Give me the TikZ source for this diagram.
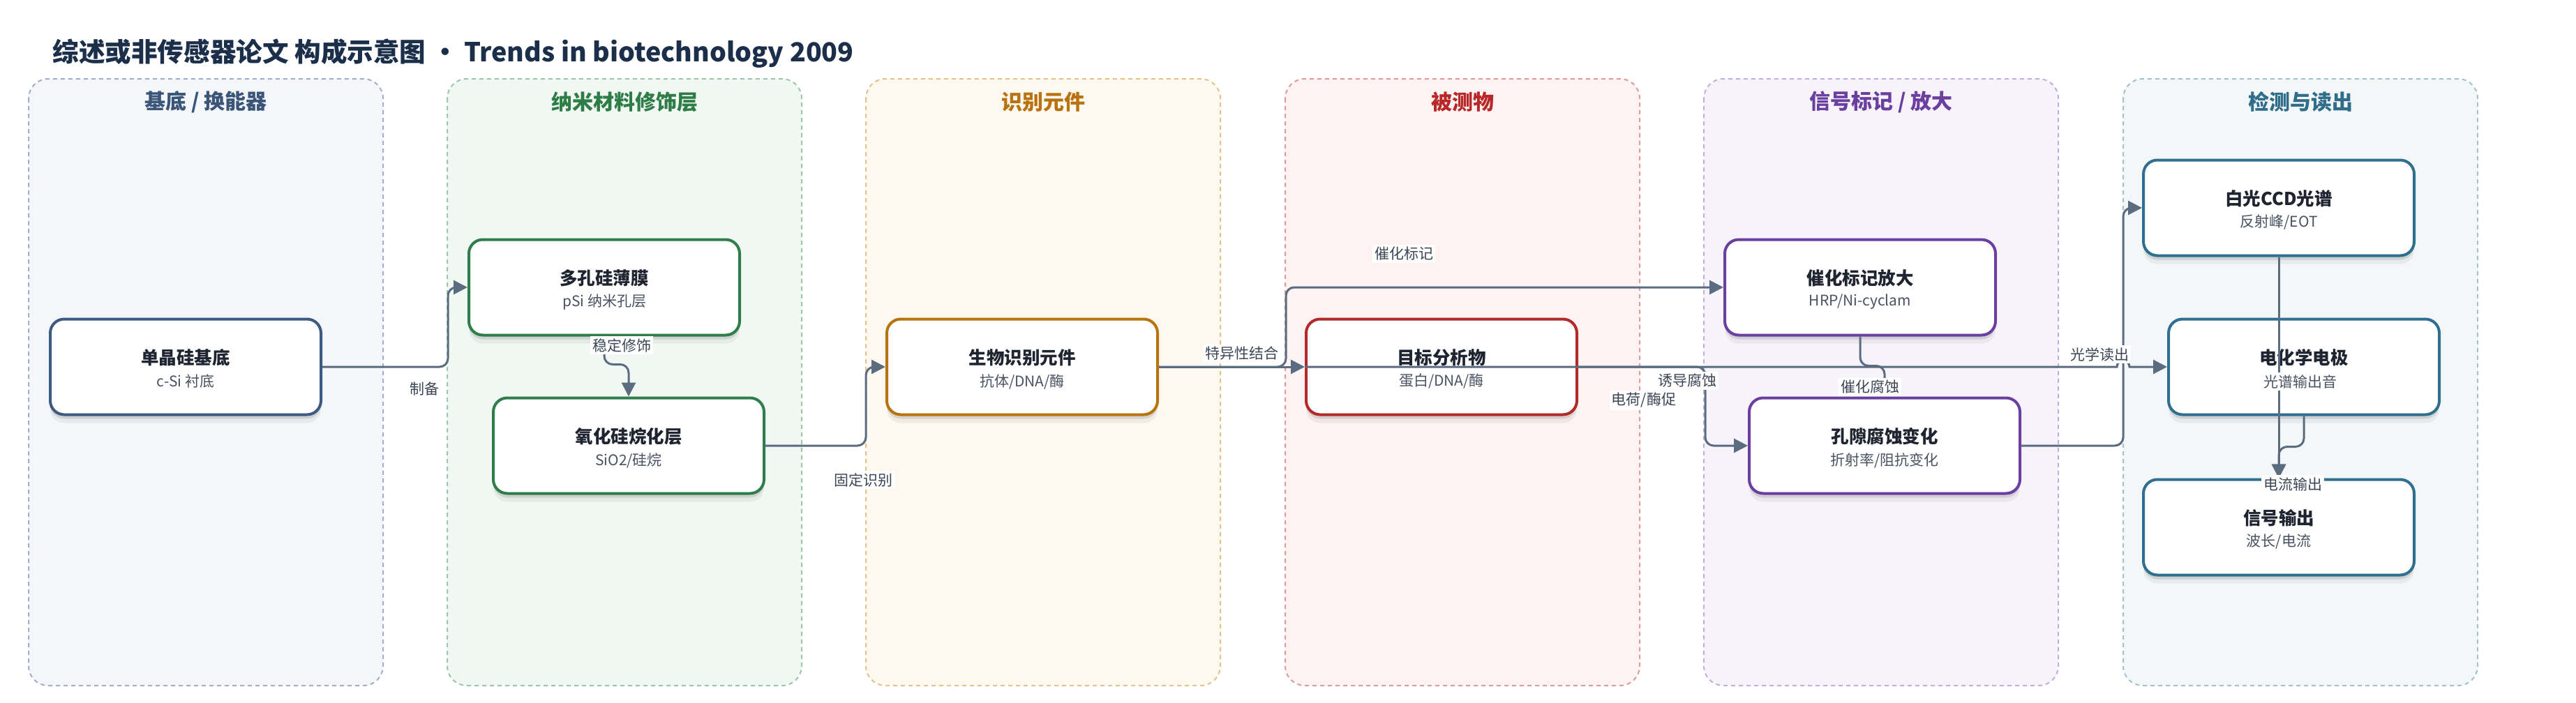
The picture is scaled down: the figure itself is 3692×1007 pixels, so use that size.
\documentclass[tikz,border=0pt]{standalone}
\usepackage{fontspec}
\setmainfont{Noto Sans CJK SC}
\usetikzlibrary{arrows.meta,shadows,calc}

\definecolor{titlec}{HTML}{1B2F4B}
\definecolor{edgec}{HTML}{5B6B80}
\definecolor{ntext}{HTML}{1E2430}
\definecolor{stext}{HTML}{4A5262}
\definecolor{ltext}{HTML}{3C4656}
% lane colours: border, fill, title, node border
\definecolor{laB}{HTML}{9FB0C8}\definecolor{laF}{HTML}{F4F6FA}\definecolor{laT}{HTML}{3B5578}\definecolor{laN}{HTML}{3D5A80}
\definecolor{lbB}{HTML}{9CC6A9}\definecolor{lbF}{HTML}{F1F8F3}\definecolor{lbT}{HTML}{2E7D46}\definecolor{lbN}{HTML}{2E7D4A}
\definecolor{lcB}{HTML}{E6C285}\definecolor{lcF}{HTML}{FDF8F0}\definecolor{lcT}{HTML}{B8730F}\definecolor{lcN}{HTML}{B8740C}
\definecolor{ldB}{HTML}{E49A9A}\definecolor{ldF}{HTML}{FDF3F2}\definecolor{ldT}{HTML}{B82828}\definecolor{ldN}{HTML}{B22A2A}
\definecolor{leB}{HTML}{C3AEE0}\definecolor{leF}{HTML}{F7F3FB}\definecolor{leT}{HTML}{6B3FA0}\definecolor{leN}{HTML}{6B3FA0}
\definecolor{lfB}{HTML}{A3C2CC}\definecolor{lfF}{HTML}{F3F7F8}\definecolor{lfT}{HTML}{2F6D8A}\definecolor{lfN}{HTML}{2F6F8F}

\newcommand\mybox[6]{%
  \node[boxn=#4] (#1) at (#2,#3) {};
  \node[nttl] (#1t) at ([yshift=6.5pt]#1.center) {#5};
  \node[nsub] (#1s) at ([yshift=-10.5pt]#1.center) {#6};}
\newcommand\mylane[6]{%
  \path[lanebox, draw=#3, fill=#4] (#2,113) rectangle ++(508,870);
  \node[lanettl, text=#5] (#1) at (#2+254,146) {#6};}

\begin{document}
\begin{tikzpicture}[x=0.5pt,y=-0.5pt,
  lanebox/.style={line width=1pt, dash pattern=on 3pt off 2.5pt, rounded corners=14pt},
  lanettl/.style={inner sep=0pt, font=\fontsize{15pt}{18pt}\selectfont\bfseries},
  boxn/.style={draw=#1, fill=white, line width=2pt, rounded corners=10pt,
    minimum width=194pt, minimum height=68.5pt, inner sep=0pt,
    drop shadow={shadow xshift=0pt, shadow yshift=-3pt, opacity=0.10, fill=black},
    drop shadow={shadow xshift=0pt, shadow yshift=-6pt, opacity=0.05, fill=black}},
  nttl/.style={inner sep=0pt, text=ntext, font=\fontsize{12.75pt}{15pt}\selectfont\bfseries},
  nsub/.style={inner sep=0pt, text=stext, font=\fontsize{10.5pt}{12.5pt}\selectfont},
  lbl/.style={fill=white, inner sep=1.5pt, text=ltext, font=\fontsize{10.5pt}{12.5pt}\selectfont},
  edge/.style={draw=edgec, line width=1.5pt, rounded corners=6pt, -{Triangle[length=10pt,width=10pt]}},
  plain/.style={draw=edgec, line width=1.5pt}]
\useasboundingbox[fill=white] (0,0) rectangle (3692,1007);

\node[anchor=west, inner sep=0pt, text=titlec, font=\fontsize{18.8pt}{22pt}\selectfont\bfseries] (title) at (75,77)
  {综述或非传感器论文 构成示意图 • Trends in biotechnology 2009};

\mylane{L1}{41}{laB}{laF}{laT}{基底 / 换能器}
\mylane{L2}{641}{lbB}{lbF}{lbT}{纳米材料修饰层}
\mylane{L3}{1241}{lcB}{lcF}{lcT}{识别元件}
\mylane{L4}{1842}{ldB}{ldF}{ldT}{被测物}
\mylane{L5}{2442}{leB}{leF}{leT}{信号标记 / 放大}
\mylane{L6}{3043}{lfB}{lfF}{lfT}{检测与读出}

\mybox{n1}{266}{526}{laN}{单晶硅基底}{c-Si 衬底}
\mybox{n2}{866}{412}{lbN}{多孔硅薄膜}{pSi 纳米孔层}
\mybox{n3}{901}{639}{lbN}{氧化硅烷化层}{SiO2/硅烷}
\mybox{n4}{1465}{526}{lcN}{生物识别元件}{抗体/DNA/酶}
\mybox{n5}{2066}{526}{ldN}{目标分析物}{蛋白/DNA/酶}
\mybox{n6}{2666}{412}{leN}{催化标记放大}{HRP/Ni-cyclam}
\mybox{n7}{2701}{639}{leN}{孔隙腐蚀变化}{折射率/阻抗变化}
\mybox{n8}{3266}{298}{lfN}{白光CCD光谱}{反射峰/EOT}
\mybox{n9}{3302}{526}{lfN}{电化学电极}{}
\mybox{n10}{3266}{756}{lfN}{信号输出}{波长/电流}

% connectors
\draw[edge] (n1.east) -- ++(180,0) |- (n2.west);
\draw[edge] (n2.south) -- ++(0,40) -| (n3.north);
\draw[edge] (n3.east) -- ++(144,0) |- (n4.west);
\draw[edge] (n4.east) -- (n5.west);
\draw[edge] (n4.east) -- ++(182,0) |- (n6.west);
\draw[edge, sharp corners] (n5.west) -- (3034,526) arc[start angle=180, end angle=0, radius=4.5pt] -- (n9.west);
\draw[edge] (n5.east) -- ++(182,0) |- (n7.west);
\draw[edge] (n6.south) -- ++(0,42) -| (n7.north);
\draw[edge] (n7.east) -- ++(146,0) |- (n8.west);
\draw[edge] (n8.south) -- (n10.north);
\draw[edge] (n9.south) -- ++(0,44) -| (n10.north);

% labels
\node[lbl] (e1) at (608,557) {制备};
\node[lbl] (e2) at (891,495) {稳定修饰};
\node[lbl] (e3) at (1237,688) {固定识别};
\node[lbl] (e4) at (1780,507) {特异性结合};
\node[lbl] (e5) at (2012,364) {催化标记};
\node[lbl] (e6) at (2356,574) {电荷/酶促};
\node[lbl] (e7) at (2418,546) {诱导腐蚀};
\node[lbl] (e8) at (2680,555) {催化腐蚀};
\node[lbl] (e9) at (3009,508) {光学读出};
\node[lbl, text=stext] (n9s) at (3297,547) {光谱输出音};
\node[lbl] (e11) at (3286,694) {电流输出};
\end{tikzpicture}
\end{document}
